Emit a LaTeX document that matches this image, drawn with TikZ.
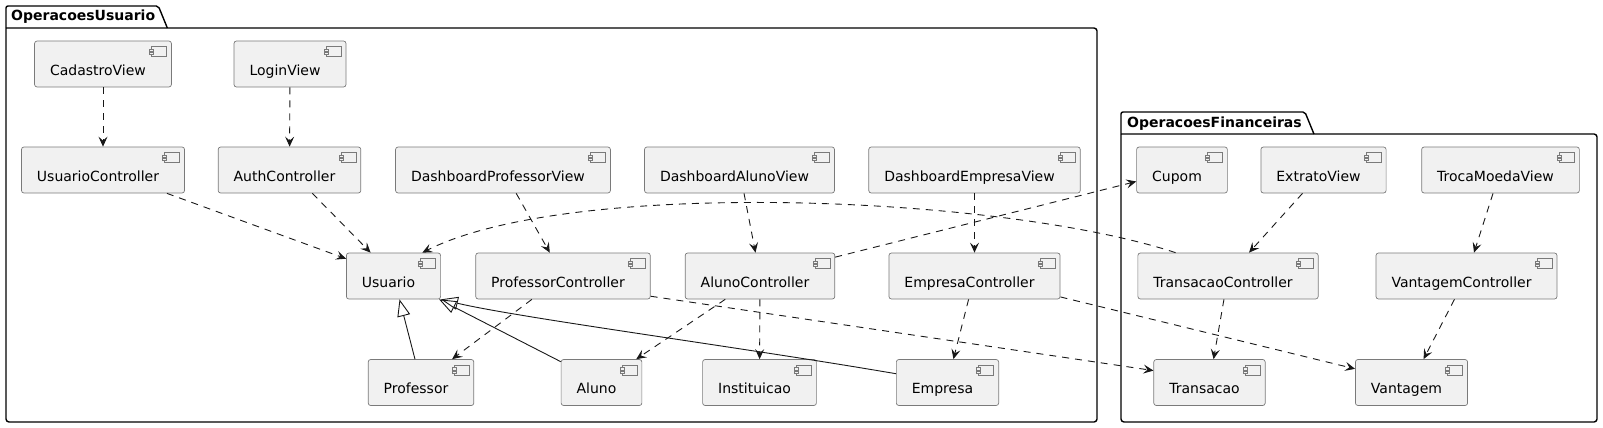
\documentclass[tikz,border=0pt]{standalone}
\usepackage{fontspec}
\setmainfont{DejaVu Sans}
\usetikzlibrary{arrows.meta}
\definecolor{compfill}{HTML}{F1F1F1}
\definecolor{compline}{HTML}{7A7A7A}
\definecolor{edgeline}{HTML}{181818}

\begin{document}
\begin{tikzpicture}[
  x=1pt, y=-1pt,
  comp/.style={draw=compline, fill=compfill, rounded corners=2.5pt,
    line width=0.7pt, minimum height=46pt, inner xsep=15.5pt, inner ysep=0pt,
    text height=24pt, text depth=2pt, font=\fontsize{14pt}{17pt}\selectfont,
    execute at end node={\hspace*{10pt}},
    path picture={
      \draw[compline, sharp corners, line width=0.6pt]
        ([shift={(-20pt,-5.7pt)}]path picture bounding box.north east)
          rectangle ++(15pt,-10pt);
      \draw[compline, sharp corners, line width=0.6pt, fill=compfill]
        ([shift={(-22pt,-8.2pt)}]path picture bounding box.north east)
          rectangle ++(4pt,-2.2pt)
        ([shift={(-22pt,-11.4pt)}]path picture bounding box.north east)
          rectangle ++(4pt,-2.2pt);
    }},
  pkg/.style={draw=black, line width=1.4pt},
  pkgname/.style={font=\bfseries\fontsize{14pt}{17pt}\selectfont,
    inner sep=0pt, anchor=base west},
  dep/.style={draw=edgeline, line width=0.9pt, dash pattern=on 7pt off 6pt,
    -{Stealth[length=10pt, width=9pt, inset=4pt]}},
  inh/.style={draw=edgeline, line width=0.9pt,
    -{Triangle[open, length=17pt, width=13pt]}}
]
\useasboundingbox (0,0) rectangle (1603,428);

\node[pkgname] (usuariopkg) at (11,21) {OperacoesUsuario};
\coordinate (usuariotop) at (0,6);
\coordinate (usuariobase) at (0,28);
\draw[pkg, rounded corners=2pt] (6,28) -- (6,6)
  -- ([xshift=3pt]usuariopkg.east |- usuariotop)
  -- ([xshift=12pt]usuariopkg.east |- usuariobase);
\draw[pkg, rounded corners=3pt] (6,28) -- (1097,28) -- (1097,422) -- (6,422) -- (6,28);

\node[pkgname] (financpkg) at (1127,127) {OperacoesFinanceiras};
\coordinate (financtop) at (0,112);
\coordinate (financbase) at (0,134);
\draw[pkg, rounded corners=2pt] (1121,134) -- (1121,112)
  -- ([xshift=3pt]financpkg.east |- financtop)
  -- ([xshift=12pt]financpkg.east |- financbase);
\draw[pkg, rounded corners=3pt] (1121,134) -- (1597,134) -- (1597,422) -- (1121,422) -- (1121,134);

\node[comp] (cadastroview) at (103,64) {CadastroView};
\node[comp] (loginview) at (290,64) {LoginView};
\node[comp] (usuarioctrl) at (103,170) {UsuarioController};
\node[comp] (authctrl) at (289.5,170) {AuthController};
\node[comp] (dashprof) at (503,170) {DashboardProfessorView};
\node[comp] (dashaluno) at (739.5,170) {DashboardAlunoView};
\node[comp] (dashempresa) at (974.5,170) {DashboardEmpresaView};
\node[comp] (usuario) at (393.5,276) {Usuario};
\node[comp] (profctrl) at (563,276) {ProfessorController};
\node[comp] (alunoctrl) at (760,276) {AlunoController};
\node[comp] (empresactrl) at (974.5,276) {EmpresaController};
\node[comp] (professor) at (421,382.5) {Professor};
\node[comp] (aluno) at (601.5,382.5) {Aluno};
\node[comp] (instituicao) at (759.5,382.5) {Instituicao};
\node[comp] (empresa) at (947.5,382.5) {Empresa};
\node[comp] (cupom) at (1182,170) {Cupom};
\node[comp] (extratoview) at (1323.5,170) {ExtratoView};
\node[comp] (trocaview) at (1500.5,170) {TrocaMoedaView};
\node[comp] (transacaoctrl) at (1228,276) {TransacaoController};
\node[comp] (vantagemctrl) at (1466.5,276) {VantagemController};
\node[comp] (transacao) at (1209.5,382.5) {Transacao};
\node[comp] (vantagem) at (1411.5,382.5) {Vantagem};

\draw[dep] (cadastroview) -- (usuarioctrl);
\draw[dep] (loginview) -- (authctrl);
\draw[dep] (usuarioctrl) -- (usuario);
\draw[dep] (authctrl) -- (usuario);
\draw[dep] (dashprof) -- (profctrl);
\draw[dep] (dashaluno) -- (alunoctrl);
\draw[dep] (dashempresa) -- (empresactrl);
\draw[dep] (alunoctrl) -- (cupom);
\draw[dep] (transacaoctrl.156) .. controls (1000,195) and (570,178) .. (usuario.39);
\draw[dep] (profctrl) -- (professor);
\draw[dep] (profctrl.347) -- (transacao.168);
\draw[dep] (alunoctrl) -- (aluno);
\draw[dep] (alunoctrl) -- (instituicao);
\draw[dep] (empresactrl) -- (empresa);
\draw[dep] (empresactrl) -- (vantagem);
\draw[dep] (extratoview) -- (transacaoctrl);
\draw[dep] (trocaview) -- (vantagemctrl);
\draw[dep] (transacaoctrl) -- (transacao);
\draw[dep] (vantagemctrl) -- (vantagem);
\draw[inh] (professor) -- (usuario);
\draw[inh] (aluno) -- (usuario);
\draw[inh] (empresa) .. controls (740,347) and (520,318) .. (usuario.south east);
\end{tikzpicture}
\end{document}
